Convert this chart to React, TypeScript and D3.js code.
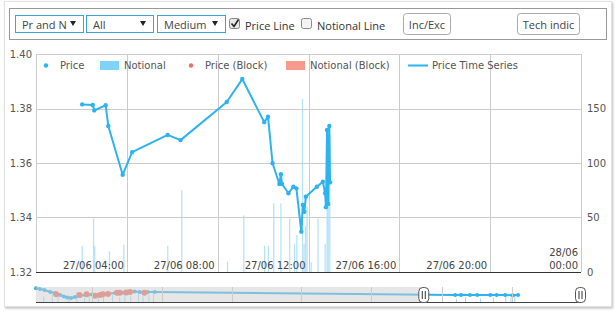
import React from "react";
import * as d3 from "d3";

// main series, 27/06/2016
const priceTimes = ["02:02", "02:30", "02:34", "03:04", "03:11", "03:49", "04:14", "05:48", "06:22", "08:24", "09:05", "10:03", "10:13", "10:25", "10:43", "10:47", "10:50", "11:07", "11:20", "11:28", "11:41", "11:45", "11:49", "11:53", "12:22", "12:38", "12:44", "12:46", "12:49", "12:52", "12:55", "12:57"];
const priceValues = [1.3815, 1.3813, 1.3793, 1.3812, 1.3736, 1.3557, 1.364, 1.3703, 1.3684, 1.3824, 1.3908, 1.375, 1.377, 1.3599, 1.3523, 1.3559, 1.3523, 1.3489, 1.3513, 1.3507, 1.3348, 1.3446, 1.3421, 1.3476, 1.3513, 1.3531, 1.3489, 1.3438, 1.3721, 1.345, 1.3736, 1.3529];

const notionalTimes = ["02:02", "02:32", "02:35", "03:14", "03:52", "05:48", "06:25", "08:26", "09:09", "10:04", "10:14", "10:28", "10:47", "11:10", "11:23", "11:29", "11:44", "11:48", "11:52", "11:56", "12:07", "12:25", "12:44", "12:49", "12:52", "12:56"];
const notionalValues = [24, 49, 24, 19, 25, 24, 75, 9.5, 52, 24, 24, 63, 63, 49, 26, 34, 159, 26, 42, 60, 9, 49, 26, 130, 134, 127];

const priceTicks = [1.32, 1.34, 1.36, 1.38, 1.4];
const notionalTicks = [0, 50, 100, 150];
const timeTickLabels = ["27/06 04:00", "27/06 08:00", "27/06 12:00", "27/06 16:00", "27/06 20:00"];

// navigator (hours after 24/06 12:00)
const navHours = [0, 0.6, 1.3, 2.2, 3.0, 3.7, 4.3, 4.8, 5.4, 6.0, 6.8, 7.6, 8.6, 9.9, 11.0, 12.2, 13.3, 14.5, 15.2, 16.0, 17.2, 18.3, 64.6, 65.5, 66.9, 68, 70, 71, 72.3, 73.5, 74.3];
const navValues = [1.4327, 1.4233, 1.41, 1.3833, 1.37, 1.3433, 1.325, 1.31, 1.305, 1.3167, 1.33, 1.3433, 1.35, 1.3567, 1.36, 1.37, 1.372, 1.38, 1.39, 1.385, 1.3833, 1.3833, 1.3433, 1.345, 1.3433, 1.344, 1.3433, 1.342, 1.3433, 1.34, 1.3433];
const blockHours = [3.1, 6.7, 7.8, 9.1, 9.9, 10.3, 11.1, 12.5, 12.9, 13.9, 14.5, 16.7];
const blockValues = [1.3527, 1.3433, 1.3527, 1.334, 1.3433, 1.3527, 1.3567, 1.372, 1.372, 1.378, 1.383, 1.372];
const navBarHours = [1.2, 2.5, 3.4, 5.1, 6.3, 7.5, 8.2, 9.6, 10.4, 11.8, 12.9, 13.7, 14.6, 15.8, 16.5, 17.4, 18.1, 64.8, 66.2, 68.5, 70.5, 72.4, 73.2, 73.8];
const navBarValues = [40, 60, 35, 45, 70, 30, 55, 40, 75, 50, 35, 65, 45, 80, 40, 55, 60, 20, 35, 25, 30, 45, 60, 55];
const navGridHours = [8.6, 19.4, 30.2, 40.9, 51.7, 62.5, 73.3];

const parse = d3.timeParse("%Y-%m-%d %H:%M");
const at = (t: string) => parse(`2016-06-27 ${t}`) as Date;
const navStart = parse("2016-06-24 12:00") as Date;
const navAt = (h: number) => d3.timeMinute.offset(navStart, Math.round(h * 60));

const BLUE = "#2db3ef";
const RED = "#ef6f62";
const AXIS_FONT = "DejaVu Sans, Verdana, sans-serif";
const UI_FONT = "'Open Sans', sans-serif";

const Select = ({ x, w, label }: { x: number; w: number; label: string }) => {
  const id = `clip-${label.replace(/\W/g, "")}`;
  return (
    <g>
      <clipPath id={id}>
        <rect x={x} y={15} width={w - 15} height={18} />
      </clipPath>
      <rect x={x + 0.5} y={15.5} width={w} height={17} fill="#fff" stroke="#3ba6dd" />
      <text x={x + 7} y={28.5} fontSize={11} fontFamily={UI_FONT} fill="#444" clipPath={`url(#${id})`}>{label}</text>
      <path d={`M${x + w - 13},21 h6 l-3,5 z`} fill="#222" />
    </g>
  );
};

const Checkbox = ({ x, checked, label }: { x: number; checked: boolean; label: string }) => (
  <g>
    <rect x={x + 0.5} y={18.5} width={10} height={10} rx={2} fill={checked ? "#e8e8e8" : "#f4f4f4"} stroke="#888" />
    {checked && <path d={`M${x + 2.5},23.5 l2.5,3 l4.5,-7`} fill="none" stroke="#222" strokeWidth={1.6} />}
    <text x={x + 16} y={30} fontSize={11} fontFamily={UI_FONT} fill="#333">{label}</text>
  </g>
);

const Button = ({ x, w, label }: { x: number; w: number; label: string }) => (
  <g>
    <rect x={x + 0.5} y={13.5} width={w} height={21} rx={3} fill="#fff" stroke="#aaa" />
    <text x={x + w / 2 + 0.5} y={29} textAnchor="middle" fontSize={11} fontFamily={UI_FONT} fill="#444">{label}</text>
  </g>
);

const App = () => {
  const left = 36, right = 581, top = 54, bottom = 272;
  const x = d3.scaleTime().domain([at("00:00"), d3.timeDay.offset(at("00:00"), 1)]).range([left, right]);
  const yPrice = d3.scaleLinear().domain([1.32, 1.4]).range([bottom, top]);
  const yNotional = d3.scaleLinear().domain([0, 200]).range([bottom, top]);

  const pricePts: [Date, number][] = priceTimes.map((t, i) => [at(t), priceValues[i]]);
  const priceLine = d3.line<[Date, number]>().x(d => x(d[0])).y(d => yPrice(d[1]));

  const navTop = 287, navBottom = 302;
  const xNav = d3.scaleTime().domain([navStart, x.domain()[1]]).range([left, right]);
  const yNav = d3.scaleLinear().domain([1.25, 1.45]).range([navBottom, navTop]);
  const yNavBar = d3.scaleLinear().domain([0, 100]).range([navBottom, navTop + 1]);
  const navPts: [Date, number][] = navHours.map((h, i) => [navAt(h), navValues[i]]);
  const navLine = d3.line<[Date, number]>().x(d => xNav(d[0])).y(d => yNav(d[1]));
  const selLeft = xNav(x.domain()[0]) - 2;
  const selRight = xNav(x.domain()[1]) - 1;

  const gridTimes = x.ticks(d3.timeHour.every(4) as d3.TimeInterval);

  return (
    <svg width={616} height={313} style={{ position: "absolute", left: 0, top: 0 }}>
      <defs>
        <filter id="shadow" x="-5%" y="-5%" width="110%" height="110%">
          <feDropShadow dx={1} dy={1.5} stdDeviation={1.2} floodColor="#000" floodOpacity={0.25} />
        </filter>
      </defs>
      <rect x={4.5} y={1.5} width={607} height={305} fill="#fff" stroke="#e2e2e2" filter="url(#shadow)" />

      {/* toolbar */}
      <rect x={9.5} y={8.5} width={597} height={31} fill="#fff" stroke="#999" />
      <Select x={15} w={68} label="Pr and N" />
      <Select x={86} w={67} label="All" />
      <Select x={157} w={68} label="Medium" />
      <Checkbox x={229} checked={true} label="Price Line" />
      <Checkbox x={301} checked={false} label="Notional Line" />
      <Button x={403} w={47} label="Inc/Exc" />
      <Button x={517} w={62} label="Tech indic" />

      {/* grid */}
      {priceTicks.map(t => (
        <line key={t} x1={left} x2={right} y1={Math.round(yPrice(t)) + 0.5} y2={Math.round(yPrice(t)) + 0.5} stroke="#ccc" />
      ))}
      {gridTimes.map((t, i) => (
        <line key={i} x1={Math.round(x(t)) + 0.5} x2={Math.round(x(t)) + 0.5} y1={top} y2={bottom} stroke="#ccc" />
      ))}

      {/* notional bars */}
      {notionalTimes.map((t, i) => (
        <rect key={i} x={x(at(t)) - 0.6} width={1.3} y={yNotional(notionalValues[i])} height={bottom - yNotional(notionalValues[i])} fill="#9fd9f6" opacity={0.75} />
      ))}

      {/* price line */}
      <path d={priceLine(pricePts) || ""} fill="none" stroke={BLUE} strokeWidth={2} strokeLinejoin="round" />
      {pricePts.map((d, i) => (
        <circle key={i} cx={x(d[0])} cy={yPrice(d[1])} r={2.2} fill={BLUE} />
      ))}

      <line x1={left} x2={right} y1={bottom + 0.5} y2={bottom + 0.5} stroke="#333" />

      {/* axes labels */}
      {priceTicks.map(t => (
        <text key={t} x={32} y={yPrice(t)} dy="0.35em" textAnchor="end" fontSize={10} fontFamily={AXIS_FONT} fill="#555">{t.toFixed(2)}</text>
      ))}
      {notionalTicks.map(t => (
        <text key={t} x={587} y={yNotional(t)} dy="0.35em" fontSize={10} fontFamily={AXIS_FONT} fill="#555">{t}</text>
      ))}
      {timeTickLabels.map((l, i) => (
        <text key={l} x={x(gridTimes[i + 1]) - 3} y={269} textAnchor="end" fontSize={10} fontFamily={AXIS_FONT} fill="#444">{l}</text>
      ))}
      <text x={x(gridTimes[gridTimes.length - 1]) - 3} y={256} textAnchor="end" fontSize={10} fontFamily={AXIS_FONT} fill="#444">28/06</text>
      <text x={x(gridTimes[gridTimes.length - 1]) - 3} y={269} textAnchor="end" fontSize={10} fontFamily={AXIS_FONT} fill="#444">00:00</text>

      {/* legend */}
      <g fontSize={10} fontFamily={AXIS_FONT} fill="#555">
        <circle cx={46} cy={65.5} r={2.2} fill={BLUE} />
        <text x={60} y={69}>Price</text>
        <rect x={100} y={61} width={19} height={9} fill="#7fd2f8" />
        <text x={124} y={69}>Notional</text>
        <circle cx={191} cy={65.5} r={2.2} fill={RED} />
        <text x={205} y={69}>Price (Block)</text>
        <rect x={286} y={61} width={19} height={9} fill="#f59a8c" />
        <text x={310} y={69}>Notional (Block)</text>
        <line x1={408} x2={428} y1={65.5} y2={65.5} stroke={BLUE} strokeWidth={2} />
        <text x={432} y={69}>Price Time Series</text>
      </g>

      {/* navigator */}
      {navBarHours.map((h, i) => (
        <rect key={i} x={xNav(navAt(h)) - 0.5} width={1} y={yNavBar(navBarValues[i])} height={navBottom - yNavBar(navBarValues[i])} fill="#9fd9f6" />
      ))}
      <path d={navLine(navPts) || ""} fill="none" stroke={BLUE} strokeWidth={2} />
      {navPts.map((d, i) => (
        <circle key={i} cx={xNav(d[0])} cy={yNav(d[1])} r={2} fill={BLUE} />
      ))}
      {blockHours.map((h, i) => (
        <circle key={i} cx={xNav(navAt(h))} cy={yNav(blockValues[i])} r={3} fill={RED} />
      ))}
      <rect x={left} y={navTop} width={selLeft - left} height={navBottom - navTop} fill="rgb(205,205,205)" opacity={0.5} />
      {navGridHours.map((h, i) => (
        <line key={i} x1={Math.round(xNav(navAt(h))) + 0.5} x2={Math.round(xNav(navAt(h))) + 0.5} y1={navTop} y2={navBottom} stroke="#ccc" />
      ))}
      <line x1={left} x2={right} y1={navBottom + 0.5} y2={navBottom + 0.5} stroke="#444" />
      {[selLeft, selRight].map((hx, i) => (
        <g key={i}>
          <rect x={hx - 4.5} y={287.5} width={10} height={15} rx={4} fill="#fff" stroke="#555" />
          <line x1={hx - 1} x2={hx - 1} y1={291} y2={299} stroke="#333" />
          <line x1={hx + 2} x2={hx + 2} y1={291} y2={299} stroke="#333" />
        </g>
      ))}
    </svg>
  );
};

export default App;
